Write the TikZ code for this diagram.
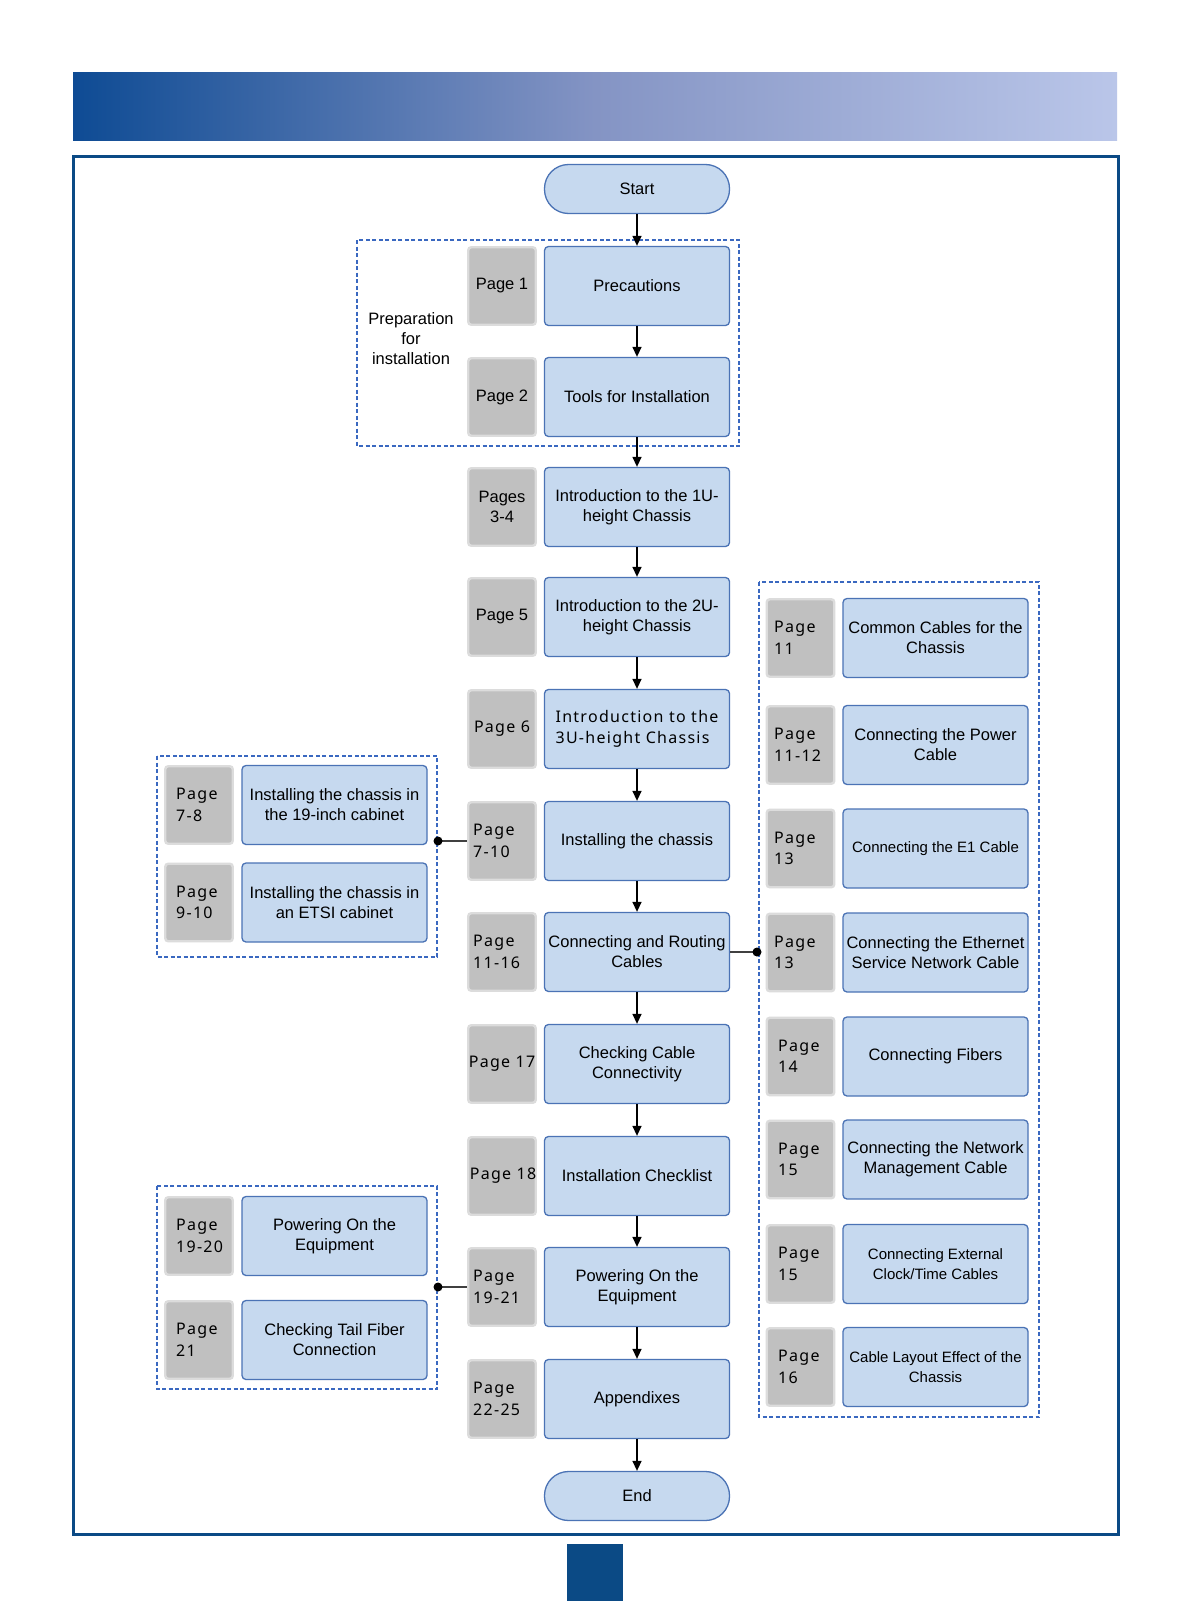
\documentclass[tikz,border=0pt]{standalone}
\usepackage{fontspec}
\setmainfont{Liberation Sans}
\newfontfamily\widefont[LetterSpace=8]{Noto Sans}
\usetikzlibrary{arrows.meta}
\definecolor{boxfill}{HTML}{C6D9EF}
\definecolor{boxline}{HTML}{4B73B5}
\definecolor{pgfill}{HTML}{C0C0C0}
\definecolor{pgline}{HTML}{DCDCDC}
\definecolor{dashc}{HTML}{3A68C0}
\definecolor{framec}{HTML}{0B4A85}
\definecolor{hdl}{HTML}{0E4B94}
\definecolor{hdm}{HTML}{8494C4}
\definecolor{hdr}{HTML}{BAC6E9}
\newcommand\mtext{\fontsize{16.5}{20}\selectfont}
\newcommand\mtextsm{\fontsize{15}{20}\selectfont}
\newcommand\ptxt{\widefont\fontsize{16}{21.5}\selectfont}
\tikzset{
 mbox/.style={draw=boxline, fill=boxfill, line width=1.3pt, rounded corners=4pt, minimum width=185pt, minimum height=79pt, align=center, inner sep=1pt, font=\mtext},
 pbox/.style={draw=pgline, fill=pgfill, line width=2.4pt, rounded corners=3pt, minimum width=67.5pt, minimum height=77.5pt, inner sep=0pt},
 ptext/.style={align=left, inner sep=0pt, font=\ptxt, anchor=west},
 ctext/.style={align=center, inner sep=0pt, font=\mtext},
 flow/.style={-{Triangle[length=10pt,width=9pt]}, line width=1.4pt, black},
 link/.style={line width=1.4pt, black!75},
 grp/.style={draw=dashc, line width=2pt, dash pattern=on 4pt off 2.5pt},
 pill/.style={draw=boxline, fill=boxfill, line width=1.3pt, rounded corners=24pt, minimum width=185pt, minimum height=49pt, font=\mtext},
}
\begin{document}
\begin{tikzpicture}[x=1pt,y=-1pt]
\useasboundingbox (0,0) rectangle (1191,1616);
\fill[white] (0,0) rectangle (1191,1616);
% header band
\shade[left color=hdl, right color=hdr, middle color=hdm] (73,73) rectangle (1117,141);
% frame
\draw[framec, line width=3pt] (73,157) rectangle (1118,1534);
\fill[framec] (567,1544) rectangle (623,1601);
% dashed groups
\draw[grp] (357,240) rectangle (739,446);
\draw[grp] (759,582) rectangle (1039,1417);
\draw[grp] (157,756) rectangle (437,957);
\draw[grp] (157,1186) rectangle (437,1389);
\node[align=center, font=\mtext, inner sep=0pt] (prep) at (411,339) {Preparation\\for\\installation};

% main column
\node[pill] (start) at (637,189) {Start};
\node[mbox] (m0) at (637,286) {Precautions};
\node[mbox] (m1) at (637,397) {Tools for Installation};
\node[mbox] (m2) at (637,507) {Introduction to the 1U-\\height Chassis};
\node[mbox] (m3) at (637,617) {Introduction to the 2U-\\height Chassis};
\node[mbox, align=left, font=\ptxt] (m4) at (637,729) {Introduction to the\\3U-height Chassis};
\node[mbox] (m5) at (637,841) {Installing the chassis};
\node[mbox] (m6) at (637,952) {Connecting and Routing\\Cables};
\node[mbox] (m7) at (637,1064) {Checking Cable\\Connectivity};
\node[mbox] (m8) at (637,1176) {Installation Checklist};
\node[mbox] (m9) at (637,1287) {Powering On the\\Equipment};
\node[mbox] (m10) at (637,1399) {Appendixes};
\node[pill] (end) at (637,1496) {End};

\node[pbox] (p0) at (502,286) {};
\node[pbox] (p1) at (502,397) {};
\node[pbox] (p2) at (502,507) {};
\node[pbox] (p3) at (502,617) {};
\node[pbox] (p4) at (502,729) {};
\node[pbox] (p5) at (502,841) {};
\node[pbox] (p6) at (502,952) {};
\node[pbox] (p7) at (502,1064) {};
\node[pbox] (p8) at (502,1176) {};
\node[pbox] (p9) at (502,1287) {};
\node[pbox] (p10) at (502,1399) {};
\node[ctext] (t0) at (p0) {Page 1};
\node[ctext] (t1) at (p1) {Page 2};
\node[ctext] (t2) at (p2) {Pages\\3-4};
\node[ctext] (t3) at (p3) {Page 5};
\node[ctext, font=\ptxt] (t4) at (p4) {Page 6};
\node[ptext] (t5) at (473,841) {Page\\7-10};
\node[ptext] (t6) at (473,952) {Page\\11-16};
\node[ctext, font=\ptxt] (t7) at (p7) {Page 17};
\node[ctext, font=\ptxt] (t8) at (503,1176) {Page 18};
\node[ptext] (t9) at (473,1287) {Page\\19-21};
\node[ptext] (t10) at (473,1399) {Page\\22-25};

\draw[flow] (start) -- (m0);
\draw[flow] (m0) -- (m1);
\draw[flow] (m1) -- (m2);
\draw[flow] (m2) -- (m3);
\draw[flow] (m3) -- (m4);
\draw[flow] (m4) -- (m5);
\draw[flow] (m5) -- (m6);
\draw[flow] (m6) -- (m7);
\draw[flow] (m7) -- (m8);
\draw[flow] (m8) -- (m9);
\draw[flow] (m9) -- (m10);
\draw[flow] (m10) -- (end);

% right column
\node[mbox] (r0) at (935.5,638) {Common Cables for the\\Chassis};
\node[mbox] (r1) at (935.5,745) {Connecting the Power\\Cable};
\node[mbox, font=\mtextsm] (r2) at (935.5,848.5) {Connecting the E1 Cable};
\node[mbox] (r3) at (935.5,952.5) {Connecting the Ethernet\\Service Network Cable};
\node[mbox] (r4) at (935.5,1056.5) {Connecting Fibers};
\node[mbox] (r5) at (935.5,1159.5) {Connecting the Network\\Management Cable};
\node[mbox, font=\mtextsm] (r6) at (935.5,1264) {Connecting External\\Clock/Time Cables};
\node[mbox, font=\mtextsm] (r7) at (935.5,1367) {Cable Layout Effect of the\\Chassis};
\node[pbox] (q0) at (800.5,638) {};
\node[pbox] (q1) at (800.5,745) {};
\node[pbox] (q2) at (800.5,848.5) {};
\node[pbox] (q3) at (800.5,952.5) {};
\node[pbox] (q4) at (800.5,1056.5) {};
\node[pbox] (q5) at (800.5,1159.5) {};
\node[pbox] (q6) at (800.5,1264) {};
\node[pbox] (q7) at (800.5,1367) {};
\node[ptext] (u0) at (774,638) {Page\\11};
\node[ptext] (u1) at (774,745) {Page\\11-12};
\node[ptext] (u2) at (774,848.5) {Page\\13};
\node[ptext] (u3) at (774,952.5) {Page\\13};
\node[ptext] (u4) at (778,1056.5) {Page\\14};
\node[ptext] (u5) at (778,1159.5) {Page\\15};
\node[ptext] (u6) at (778,1264) {Page\\15};
\node[ptext] (u7) at (778,1367) {Page\\16};

% left groups
\node[mbox] (l0) at (334.5,805) {Installing the chassis in\\the 19-inch cabinet};
\node[mbox] (l1) at (334.5,902.5) {Installing the chassis in\\an ETSI cabinet};
\node[mbox] (l2) at (334.5,1236) {Powering On the\\Equipment};
\node[mbox] (l3) at (334.5,1340) {Checking Tail Fiber\\Connection};
\node[pbox] (k0) at (199,805) {};
\node[pbox] (k1) at (199,902.5) {};
\node[pbox] (k2) at (199,1236) {};
\node[pbox] (k3) at (199,1340) {};
\node[ptext] (v0) at (176,805) {Page\\7-8};
\node[ptext] (v1) at (176,902.5) {Page\\9-10};
\node[ptext] (v2) at (176,1236) {Page\\19-20};
\node[ptext] (v3) at (176,1340) {Page\\21};

% links
\coordinate (d1) at (438,841);
\coordinate (d2) at (757,952);
\coordinate (d3) at (438,1287);
\draw[link] (d1) -- (p5.west);
\draw[link] (m6.east) -- (d2);
\draw[link] (d3) -- (p9.west);
\fill[black] (d1) circle (4.5pt);
\fill[black] (d2) circle (4.5pt);
\fill[black] (d3) circle (4.5pt);
\end{tikzpicture}
\end{document}
